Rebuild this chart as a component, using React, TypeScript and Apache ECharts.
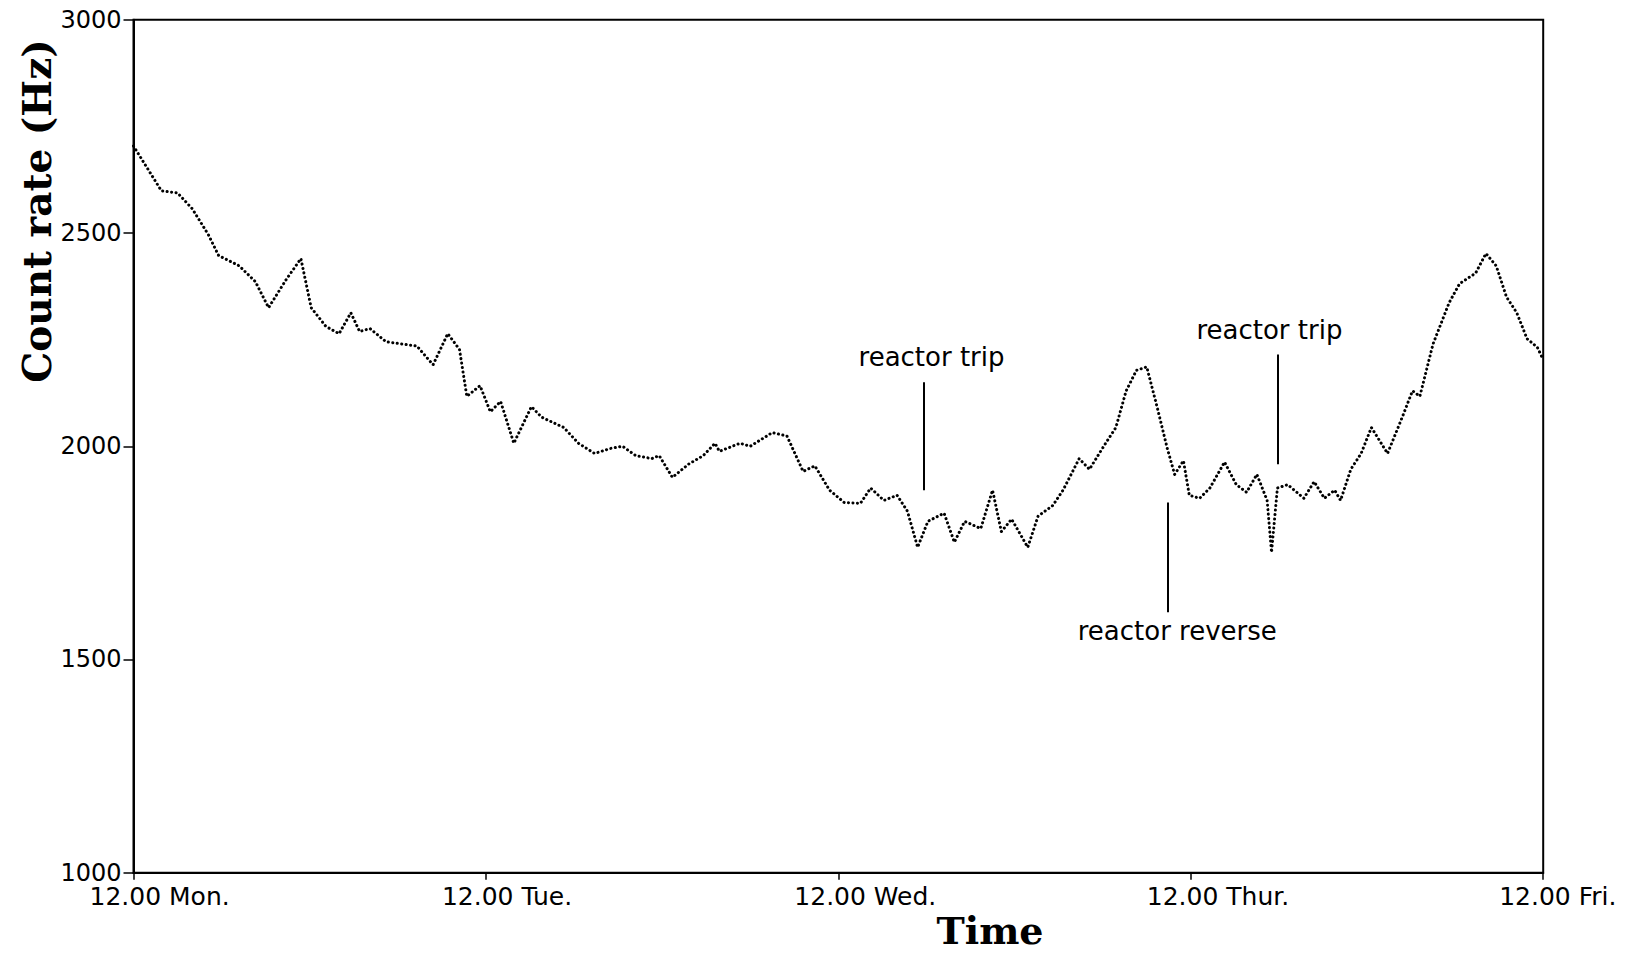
import React, { useEffect, useRef } from "react";
import * as echarts from "echarts";

// Time in hours after 12.00 Monday
const hours = [
  0, 1.9, 3.0, 4.0, 5.1, 5.8, 7.2, 8.3, 9.2, 10.4, 11.4, 12.1, 13.1, 14.0, 14.8, 15.4, 16.1,
  17.2, 19.3, 20.4, 21.4, 22.2, 22.7, 23.6, 24.3, 25.0, 25.9, 27.1, 27.8, 29.3, 30.3, 31.4,
  32.5, 33.3, 34.2, 35.3, 35.8, 36.7, 37.8, 38.8, 39.6, 39.9, 41.3, 42.0, 43.5, 44.5, 45.6,
  46.4, 47.4, 48.4, 49.5, 50.2, 51.1, 52.0, 52.7, 53.4, 54.1, 55.2, 55.9, 56.6, 57.7, 58.5,
  59.1, 59.8, 60.9, 61.6, 62.6, 63.3, 64.4, 65.1, 66.2, 66.9, 67.6, 68.3, 69.0, 69.7, 70.4,
  70.9, 71.5, 71.9, 72.6, 73.3, 74.3, 75.1, 75.8, 76.5, 77.2, 77.5, 77.9, 78.6, 79.7, 80.4,
  81.1, 81.8, 82.2, 82.9, 83.6, 84.3, 85.4, 86.4, 87.1, 87.6, 88.5, 89.6, 90.3, 91.4, 92.1,
  92.8, 93.5, 94.2, 94.9, 95.6, 96.0,
];

// Count rate (Hz)
const counts = [
  2704, 2599, 2594, 2557, 2496, 2447, 2423, 2386, 2325, 2391, 2440, 2325, 2281, 2264, 2313, 2269, 2276,
  2245, 2235, 2191, 2264, 2227, 2117, 2142, 2081, 2105, 2007, 2093, 2068, 2044, 2007, 1983,
  1995, 2000, 1978, 1971, 1978, 1927, 1958, 1978, 2007, 1988, 2007, 2000, 2032, 2024, 1941,
  1954, 1897, 1868, 1866, 1902, 1873, 1885, 1848, 1763, 1824, 1843, 1775, 1824, 1807, 1897,
  1800, 1829, 1763, 1836, 1861, 1897, 1971, 1946, 2007, 2044, 2130, 2178, 2186, 2093, 1995,
  1934, 1966, 1885, 1878, 1902, 1963, 1910, 1892, 1934, 1873, 1751, 1902, 1910, 1878, 1917,
  1878, 1897, 1873, 1946, 1983, 2044, 1983, 2068, 2130, 2117, 2240, 2337, 2381, 2406, 2452,
  2423, 2350, 2313, 2252, 2232, 2203,
];

const yTicks = [1000, 1500, 2000, 2500, 3000];
const dayTicks = [0, 24, 48, 72, 96];
const dayLabels = ["12.00 Mon.", "12.00 Tue.", "12.00 Wed.", "12.00 Thur.", "12.00 Fri."];

// Event markers: hour, upper and lower count of the marker line
const eventNames = ["reactor trip", "reactor reverse", "reactor trip"];
const eventHours = [53.8, 70.4, 77.9];
const eventTops = [2150, 1868, 2215];
const eventBottoms = [1897, 1611, 1958];
const eventLabelAtTop = [true, false, true];

// layout constants (not data)
const eventLabelDx = [8, 10, -8];
const FONT = "DejaVu Sans";

export default function App() {
  const ref = useRef<HTMLDivElement>(null);

  useEffect(() => {
    if (!ref.current) return;
    const chart = echarts.init(ref.current, undefined, { renderer: "svg" });
    const data = hours.map((h, i) => [h, counts[i]]);

    chart.setOption({
      animation: false,
      backgroundColor: "#fff",
      grid: {
        left: 133.5,
        right: 91.8,
        top: 19.8,
        bottom: 81.3,
        show: true,
        borderColor: "#000",
        borderWidth: 2,
        backgroundColor: "transparent",
      },
      xAxis: {
        type: "value",
        min: 0,
        max: 96,
        interval: 24,
        axisLine: { show: true, onZero: false, lineStyle: { color: "#000", width: 2 } },
        axisTick: { show: true, inside: false, length: 7, lineStyle: { color: "#000", width: 1.5 } },
        axisLabel: { show: false },
        splitLine: { show: false },
      },
      yAxis: {
        type: "value",
        min: yTicks[0],
        max: yTicks[yTicks.length - 1],
        interval: 500,
        axisLine: { show: true, lineStyle: { color: "#000", width: 2 } },
        axisTick: { show: true, inside: false, length: 10, lineStyle: { color: "#000", width: 1.5 } },
        axisLabel: {
          color: "#000",
          fontSize: 24,
          fontFamily: FONT,
          margin: 12,
          formatter: (v: number) => String(v),
        },
        splitLine: { show: false },
      },
      series: [
        {
          type: "line",
          data,
          symbol: "none",
          showSymbol: false,
          lineStyle: { color: "#000", width: 3, type: [0.1, 4.4], cap: "round" },
          markLine: {
            silent: true,
            symbol: "none",
            label: { show: false },
            lineStyle: { color: "#000", width: 2, type: "solid" },
            data: eventHours.map((h, i) => [
              { coord: [h, eventTops[i]] },
              { coord: [h, eventBottoms[i]] },
            ]),
          },
        },
      ],
    });

    const graphics: any[] = [];
    dayTicks.forEach((d, i) => {
      const p = chart.convertToPixel({ xAxisIndex: 0, yAxisIndex: 0 }, [d, yTicks[0]]) as number[];
      graphics.push({
        type: "text",
        x: p[0] - 44,
        y: p[1] + 11,
        style: {
          text: dayLabels[i],
          fill: "#000",
          fontSize: 25,
          fontFamily: FONT,
          align: "left",
          verticalAlign: "top",
        },
      });
    });
    eventHours.forEach((h, i) => {
      const top = eventLabelAtTop[i];
      const p = chart.convertToPixel({ xAxisIndex: 0, yAxisIndex: 0 }, [
        h,
        top ? eventTops[i] : eventBottoms[i],
      ]) as number[];
      graphics.push({
        type: "text",
        x: p[0] + eventLabelDx[i],
        y: top ? p[1] - 12 : p[1] + 6,
        style: {
          text: eventNames[i],
          fill: "#000",
          fontSize: 26,
          fontFamily: FONT,
          align: "center",
          verticalAlign: top ? "bottom" : "top",
        },
      });
    });
    graphics.push({
      type: "text",
      x: 37,
      y: 211,
      rotation: Math.PI / 2,
      style: {
        text: "Count rate (Hz)",
        fill: "#000",
        fontSize: 39,
        fontWeight: "bold",
        fontFamily: "DejaVu Serif",
        align: "center",
        verticalAlign: "middle",
      },
    });
    graphics.push({
      type: "text",
      x: 990,
      y: 930,
      style: {
        text: "Time",
        fill: "#000",
        fontSize: 38,
        fontWeight: "bold",
        fontFamily: "DejaVu Serif",
        align: "center",
        verticalAlign: "middle",
      },
    });
    chart.setOption({ graphic: graphics });

    return () => chart.dispose();
  }, []);

  return (
    <div
      ref={ref}
      style={{ position: "fixed", left: 0, top: 0, width: 1635, height: 954, background: "#fff" }}
    />
  );
}
